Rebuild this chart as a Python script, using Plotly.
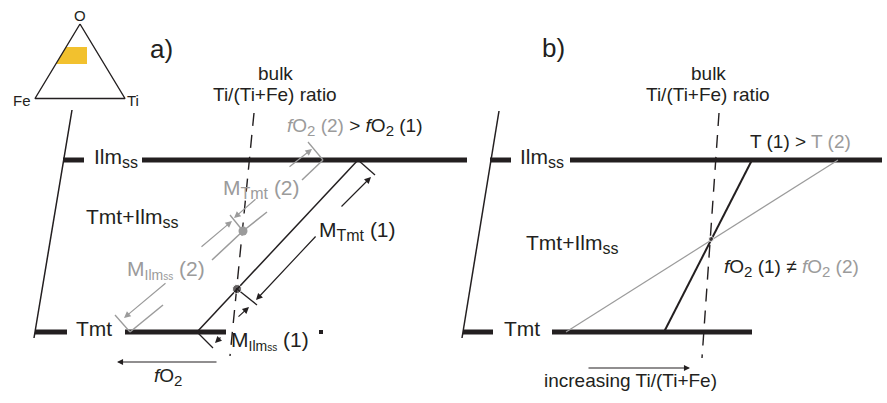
import plotly.graph_objects as go

W, H = 887, 403
BLACK = "#231F20"
GRAY = "#9B9B9B"
GOLD = "#F2C12E"
FONT = "Liberation Sans, Arial, Helvetica, sans-serif"

# ---------------- schematic geometry (pixel space of the figure) ----------------
# ternary inset
tri_x = [80, 35, 125, 80]
tri_y = [24, 98.5, 98.5, 24]
box_x = [66, 87, 87, 56, 66]
box_y = [47, 47, 64, 64, 47]

# phase boundaries (thick lines) : segments [x0, x1] at y
ilm_y = 160
tmt_y = 332
ilm_segs = [(63, 84), (142, 467), (490, 511), (570, 882)]
tmt_segs = [(35, 67), (125, 226), (463, 493), (552, 752)]

# slanted boundary lines
slant_a = [(72, 110), (34, 338)]
slant_b = [(499, 111), (462, 338)]

# bulk composition dashed lines
bulk_a = [(254, 113), (230, 356)]
bulk_b = [(719, 113), (702, 358)]

# panel a tie lines
tie1 = [(197, 332), (358, 160)]          # black, fO2 (1)
tie2_segs = [[(130, 332), (163, 305)],    # gray, fO2 (2) (broken by labels)
             [(212, 260), (243, 231)],
             [(243, 231), (267, 212)],
             [(302, 180), (323, 160)]]
dot1 = (237, 289)
dot2 = (243, 231)

# dimension ticks
ticks_gray = [[(323, 160), (308, 142)], [(243, 231), (230, 215)], [(130, 332), (115, 315)]]
ticks_black = [[(358, 160), (375, 175)], [(237, 289), (257, 305)], [(197, 332), (213, 348)]]

# dimension arrows: (tail, head)
arrows_gray = [((288, 168), (312, 149)), ((257, 198), (234, 218)),
               ((200, 248), (232, 221)), ((167, 282), (124, 318))]
arrows_black = [((340, 208), (371, 177)), ((317, 235), (256, 300)),
                ((237, 318), (249, 307)), ((222, 336), (215, 343))]
arrow_fo2 = ((218, 362), (117, 362))
arrow_ti = ((587, 368), (690, 368))

# panel b tie lines
tieT1 = [(752, 160), (664, 332)]
tieT2 = [(838, 160), (566, 332)]
dotb = (711, 239)
stray = (321, 332)

fig = go.Figure()

def line(pts, color, width, dash=None):
    fig.add_trace(go.Scatter(x=[p[0] for p in pts], y=[p[1] for p in pts], mode="lines",
                             line=dict(color=color, width=width, dash=dash),
                             hoverinfo="skip", showlegend=False))

# gold box and triangle
fig.add_trace(go.Scatter(x=box_x, y=box_y, mode="lines", fill="toself", fillcolor=GOLD,
                         line=dict(width=0, color=GOLD), hoverinfo="skip", showlegend=False))
line(list(zip(tri_x, tri_y)), BLACK, 1.4)

for x0, x1 in ilm_segs:
    line([(x0, ilm_y), (x1, ilm_y)], BLACK, 5)
for x0, x1 in tmt_segs:
    line([(x0, tmt_y), (x1, tmt_y)], BLACK, 5)

line(slant_a, BLACK, 1.5)
line(slant_b, BLACK, 1.5)
line(bulk_a, BLACK, 1.4, dash="13px,9px")
line(bulk_b, BLACK, 1.4, dash="13px,9px")

line(tie1, BLACK, 1.5)
for s in tie2_segs:
    line(s, GRAY, 1.5)
for s in ticks_gray:
    line(s, GRAY, 1.3)
for s in ticks_black:
    line(s, BLACK, 1.3)

line(tieT1, BLACK, 2)
line(tieT2, GRAY, 1.2)

fig.add_trace(go.Scatter(x=[dot1[0], dotb[0]], y=[dot1[1], dotb[1]], mode="markers",
                         marker=dict(color=BLACK, size=[9, 5]), hoverinfo="skip", showlegend=False))
fig.add_trace(go.Scatter(x=[dot2[0]], y=[dot2[1]], mode="markers",
                         marker=dict(color=GRAY, size=9), hoverinfo="skip", showlegend=False))
fig.add_trace(go.Scatter(x=[stray[0]], y=[stray[1]], mode="markers",
                         marker=dict(color=BLACK, size=4, symbol="square"), hoverinfo="skip",
                         showlegend=False))

anns = []
def arrow(tail, head, color, width=1.2):
    anns.append(dict(x=head[0], y=head[1], ax=tail[0], ay=tail[1], xref="x", yref="y",
                     axref="x", ayref="y", text="", showarrow=True, arrowhead=2,
                     arrowsize=1.1, arrowwidth=width, arrowcolor=color, standoff=0, startstandoff=0))

for t, h in arrows_gray:
    arrow(t, h, GRAY)
for t, h in arrows_black:
    arrow(t, h, BLACK)
arrow(*arrow_fo2, BLACK, 1.1)
arrow(*arrow_ti, BLACK, 1.1)

def text(x, y, s, size=19, color=BLACK, xanchor="center"):
    anns.append(dict(x=x, y=y, xref="x", yref="y", text=s, showarrow=False,
                     xanchor=xanchor, yanchor="middle",
                     font=dict(family=FONT, size=size, color=color)))

def sub(s, px):
    return f"<sub><span style='font-size:{px}px'>{s}</span></sub>"

G = lambda s: f"<span style='color:{GRAY}'>{s}</span>"
fo2 = "<i>f</i>O" + sub("2", 15)
ilm_ss = "Ilm" + sub("ss", 16)
m_tmt = "M" + sub("Tmt", 16)
m_ilm = "M" + sub("Ilm" + "<span style='font-size:10px'>ss</span>", 14)

text(80, 15, "O", 15)
text(22, 100, "Fe", 15)
text(133, 100, "Ti", 15)
text(161, 49, "a)", 26)
text(553, 48, "b)", 26)

text(275, 73, "bulk")
text(275, 94, "Ti/(Ti+Fe) ratio")
text(708, 73, "bulk")
text(708, 94, "Ti/(Ti+Fe) ratio")

text(354, 127, G(fo2 + " (2)") + " &gt; " + fo2 + " (1)")
text(92, 158, ilm_ss, 21, xanchor="left")
text(518, 158, ilm_ss, 21, xanchor="left")
text(84, 218, "Tmt+" + ilm_ss, 21, xanchor="left")
text(524, 244, "Tmt+" + ilm_ss, 21, xanchor="left")
text(74, 328, "Tmt", 21, xanchor="left")
text(502, 328, "Tmt", 21, xanchor="left")

text(261, 189, m_tmt + " (2)", 21, GRAY)
text(166, 270, m_ilm + " (2)", 21, GRAY)
text(317, 231, m_tmt + " (1)", 21, xanchor="left")
text(229, 341, m_ilm + " (1)", 21, xanchor="left")
text(168, 377, fo2, 19)

text(800, 141, "T (1) &gt; " + G("T (2)"))
text(791, 268, fo2 + " (1) ≠ " + G(fo2 + " (2)"))
text(630, 380, "increasing Ti/(Ti+Fe)")

fig.update_layout(
    width=W, height=H, margin=dict(l=0, r=0, t=0, b=0),
    paper_bgcolor="white", plot_bgcolor="white",
    xaxis=dict(range=[0, W], visible=False, fixedrange=True),
    yaxis=dict(range=[H, 0], visible=False, fixedrange=True),
    annotations=anns, showlegend=False,
)
fig.write_html("out.html")
